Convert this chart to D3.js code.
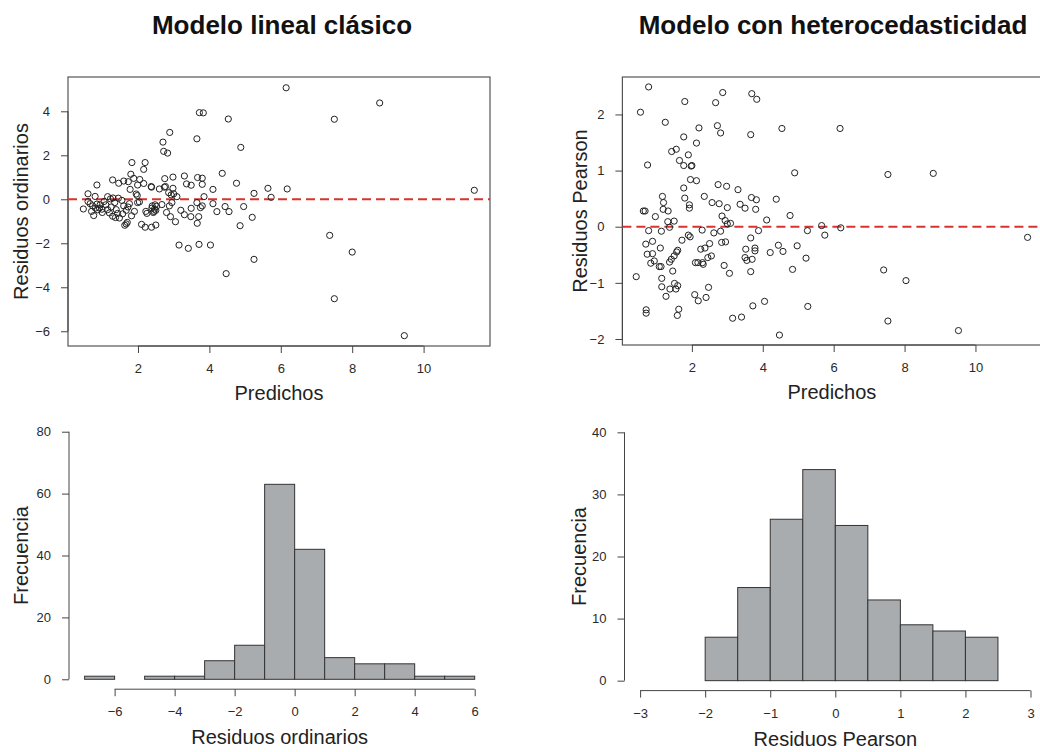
<!DOCTYPE html>
<html>
<head>
<meta charset="utf-8">
<style>
  body { margin: 0; background: #fff; }
  svg { display: block; font-family: "Liberation Sans", Arial, sans-serif; }
  .axis path, .axis line { stroke: #444; }
  .axis text { font-size: 13px; fill: #2a2a2a; }
  .pt { fill: none; stroke: #222; stroke-width: 1; }
  .bar { fill: #a9acaf; stroke: #333; stroke-width: 1; }
  .ttl { font-size: 26px; font-weight: bold; fill: #111; }
  .lab { font-size: 20px; fill: #222; }
</style>
</head>
<body>
<script src="https://d3js.org/d3.v7.min.js"></script>
<script>
// fitted values vs ordinary residuals (classic linear model)
var ordinaryPoints = [
  [6.15,5.07],[8.77,4.38],[3.72,3.94],[3.83,3.93],[4.53,3.65],[7.5,3.64],[2.89,3.04],[3.65,2.75],[2.70,2.6],[2.72,2.18],[2.83,2.1],[4.88,2.36],
  [1.83,1.67],[2.20,1.67],[2.16,1.36],[1.80,1.14],[1.88,0.95],[2.05,0.9],[1.29,0.88],[1.6,0.83],[1.46,0.73],[1.73,0.8],[2.16,0.72],[1.99,0.65],
  [0.85,0.65],[1.78,0.45],[1.95,0.24],[1.98,0.17],[2.38,0.55],[2.75,0.94],[2.98,1.01],[2.74,0.55],[2.98,0.5],[3.30,1.06],[3.36,0.7],[3.49,0.64],
  [3.67,0.99],[3.80,0.96],[3.80,0.68],[4.36,1.18],[4.76,0.73],[4.10,0.45],[3.85,0.12],[5.25,0.27],[0.6,0.25],[0.8,0.13],[1.15,0.12],[1.23,0.02],
  [1.3,0.06],[2.86,0.3],[2.93,0.2],[3.0,0.25],[3.09,0.12],[5.64,0.5],[5.73,0.09],[6.18,0.47],[11.42,0.41],[2.37,0.58],[2.6,0.47],[2.77,0.58],[1.45,0.05],
  [9.46,-6.2],[7.5,-4.52],[4.47,-3.38],[3.15,-2.08],[3.41,-2.23],[3.71,-2.05],[4.03,-2.08],[8.0,-2.4],[5.25,-2.73],
  [7.37,-1.64],[4.86,-1.2],[1.63,-1.18],[1.67,-1.12],[2.1,-1.14],[2.2,-1.27],[2.38,-1.27],[2.5,-1.17],[3.05,-1.02],[3.66,-1.09],[1.7,-1.05],
  [0.47,-0.44],[0.76,-0.74],[1.37,-0.83],[2.25,-0.64],[2.4,-0.3],[2.45,-0.55],[2.5,-0.5],[2.52,-0.32],[2.67,-0.24],[2.88,-0.3],
  [2.95,-0.15],[2.91,-0.79],[3.49,-0.41],[3.48,-0.79],[3.7,-0.79],[3.75,-0.38],[3.8,-0.3],[3.65,-0.15],[4.21,-0.56],[4.44,-0.33],
  [4.55,-0.56],[4.96,-0.33],[5.2,-0.82],[0.66,-0.2],[0.73,-0.3],[0.81,-0.4],[0.87,-0.48],[0.92,-0.4],[0.99,-0.45],
  [0.94,-0.25],[0.85,-0.22],[1.1,-0.25],[1.15,-0.47],[1.2,-0.62],[1.29,-0.77],[1.39,-0.47],[1.43,-0.64],[1.48,-0.85],[1.57,-0.66],
  [1.67,-0.5],[1.72,-0.35],[1.76,-0.2],[1.82,-0.75],[1.99,-0.15],[2.04,-0.12],[2.22,-0.55],[2.39,-0.4],[2.43,-0.6],[2.48,-0.25],
  [2.46,-0.45],[1.55,-0.05],[0.6,-0.1],[0.7,-0.55],[1.0,-0.6],[1.05,-0.1],[1.25,-0.35],[1.6,-0.3],[1.9,-0.55],[2.8,-0.6],
  [3.2,-0.5],[3.3,-0.7],[4.1,-0.2],[1.35,-0.15]
];

// fitted values vs Pearson residuals (heteroscedastic model)
var pearsonPoints = [
  [0.78,2.49],[0.55,2.04],[1.8,2.23],[2.67,2.21],[2.87,2.39],[3.69,2.37],[3.83,2.27],
  [1.25,1.86],[2.72,1.8],[2.81,1.67],[3.66,1.64],[4.54,1.75],[2.2,1.76],[1.77,1.6],[6.18,1.75],
  [2.13,1.49],[1.43,1.34],[1.56,1.38],[1.65,1.18],[1.77,1.09],[1.9,1.28],[1.98,1.08],[2.0,1.09],[0.75,1.1],
  [4.9,0.96],[1.96,0.84],[2.13,0.82],[1.77,0.69],[2.74,0.75],[2.98,0.72],[3.3,0.66],[1.17,0.54],[1.8,0.51],[2.35,0.54],[3.68,0.52],[7.53,0.93],[8.81,0.95],
  [1.2,0.43],[1.19,0.31],[1.33,0.28],[1.93,0.39],[1.93,0.33],[2.57,0.43],[2.77,0.41],[3.0,0.34],[3.36,0.4],[3.5,0.33],[3.82,0.48],[3.8,0.31],
  [4.38,0.49],[4.77,0.2],[4.11,0.12],[0.63,0.28],[0.68,0.28],[0.97,0.18],[1.32,0.09],[2.85,0.19],[2.94,0.11],[3.0,0.05],[3.09,0.06],[5.66,0.02],[1.5,0.1],
  [1.37,-0.01],[2.29,-0.06],[0.78,-0.07],[1.14,-0.08],[3.88,-0.07],[5.26,-0.07],[5.75,-0.15],[6.2,-0.02],[11.47,-0.19],[0.7,-0.31],
  [0.89,-0.26],[1.11,-0.38],[0.74,-0.49],[0.89,-0.48],[2.84,-0.28],[2.62,-0.11],[2.81,-0.08],[3.66,-0.2],[4.44,-0.33],[4.57,-0.44],
  [4.21,-0.46],[4.97,-0.34],[2.5,-0.3],[2.95,-0.27],[3.52,-0.4],[3.78,-0.38],[3.78,-0.43],[2.25,-0.4],[2.37,-0.38],
  [1.57,-0.45],[1.6,-0.42],[1.72,-0.24],[1.9,-0.15],[1.95,-0.18],
  [0.84,-0.65],[0.94,-0.61],[1.08,-0.71],[1.13,-0.71],[1.37,-0.63],[1.42,-0.58],[1.46,-0.79],[2.55,-0.52],[2.45,-0.55],[2.3,-0.64],
  [2.32,-0.67],[2.17,-0.64],[2.1,-0.64],[2.91,-0.69],[3.06,-0.83],[3.66,-0.8],[3.55,-0.6],[3.7,-0.58],[3.5,-0.55],[5.22,-0.56],
  [4.84,-0.76],[7.41,-0.77],[8.04,-0.96],[0.43,-0.89],[1.5,-0.52],[1.15,-0.92],
  [1.15,-1.07],[1.27,-1.24],[1.38,-1.11],[1.51,-1.01],[1.55,-1.11],[1.6,-1.05],[2.08,-1.21],[2.18,-1.32],[2.4,-1.26],[2.47,-1.08],
  [0.71,-1.48],[3.72,-1.41],[4.05,-1.33],[5.27,-1.42],[1.63,-1.47],
  [1.59,-1.58],[0.71,-1.54],[3.15,-1.63],[3.4,-1.61],[4.47,-1.93],[7.53,-1.68],[9.52,-1.85]
];

var ordBreaks = [-7,-6,-5,-4,-3,-2,-1,0,1,2,3,4,5,6];
var ordCounts = [1,0,1,1,6,11,63,42,7,5,5,1,1];
var pearBreaks = [-2,-1.5,-1,-0.5,0,0.5,1,1.5,2,2.5];
var pearCounts = [7,15,26,34,25,13,9,8,7];

var predTicks = [2,4,6,8,10];
var ordTicks = [-6,-4,-2,0,2,4];
var pearTicks = [-2,-1,0,1,2];
var ordHistX = [-6,-4,-2,0,2,4,6];
var ordHistY = [0,20,40,60,80];
var pearHistX = [-3,-2,-1,0,1,2,3];
var pearHistY = [0,10,20,30,40];

var W = 1040, H = 752, TICK = 7, PAD = 11;

var svg = d3.select("body").append("svg")
  .attr("width", W).attr("height", H);

function fmt(d) { return d < 0 ? "\u2212" + Math.abs(d) : String(d); }

// R-style axis: line only across the ticks
function rAxis(g, axis, scale, ticks, horiz) {
  g.call(axis.tickValues(ticks).tickSize(TICK).tickPadding(PAD).tickFormat(fmt));
  g.select(".domain").remove();
  var a = scale(d3.min(ticks)), b = scale(d3.max(ticks));
  g.append("line").attr("stroke", "#444")
    .attr("x1", horiz ? a : 0).attr("x2", horiz ? b : 0)
    .attr("y1", horiz ? 0 : a).attr("y2", horiz ? 0 : b);
}

function scatter(pts, o) {
  var x = d3.scaleLinear().domain(o.xlim).range([o.x0, o.x1]);
  var y = d3.scaleLinear().domain(o.ylim).range([o.y1, o.y0]);
  var g = svg.append("g");

  g.append("rect")
    .attr("x", o.x0).attr("y", o.y0)
    .attr("width", o.x1 - o.x0).attr("height", o.y1 - o.y0)
    .attr("fill", "none").attr("stroke", "#555").attr("stroke-width", 1.2);

  rAxis(g.append("g").attr("class", "axis").attr("transform", "translate(0," + o.y1 + ")"),
    d3.axisBottom(x), x, o.xticks, true);
  rAxis(g.append("g").attr("class", "axis").attr("transform", "translate(" + o.x0 + ",0)"),
    d3.axisLeft(y), y, o.yticks, false);

  // reference line at zero
  g.append("line")
    .attr("x1", o.x0).attr("x2", o.x1)
    .attr("y1", y(0)).attr("y2", y(0))
    .attr("stroke", "#d8342f").attr("stroke-width", 2)
    .attr("stroke-dasharray", "9,5");

  g.selectAll(".pt").data(pts).enter()
    .append("circle").attr("class", "pt")
    .attr("cx", function(d) { return x(d[0]); })
    .attr("cy", function(d) { return y(d[1]); })
    .attr("r", 3.1);

  g.append("text").attr("class", "lab")
    .attr("x", (o.x0 + o.x1) / 2).attr("y", o.y1 + 54)
    .attr("text-anchor", "middle").text(o.xlab);

  g.append("text").attr("class", "lab")
    .attr("transform", "translate(" + o.ylabX + "," + (o.y0 + o.y1) / 2 + ") rotate(-90)")
    .attr("text-anchor", "middle").text(o.ylab);
}

function hist(breaks, counts, o) {
  var x = d3.scaleLinear().domain(o.xlim).range([o.x0, o.x1]);
  var y = d3.scaleLinear().domain(o.ylim).range([o.y1, o.y0]);
  var g = svg.append("g");

  g.selectAll(".bar").data(counts).enter()
    .append("rect").attr("class", "bar")
    .attr("x", function(d, i) { return x(breaks[i]); })
    .attr("width", function(d, i) { return x(breaks[i + 1]) - x(breaks[i]); })
    .attr("y", function(d) { return y(d); })
    .attr("height", function(d) { return y(0) - y(d); });

  rAxis(g.append("g").attr("class", "axis").attr("transform", "translate(0," + o.y1 + ")"),
    d3.axisBottom(x), x, o.xticks, true);
  rAxis(g.append("g").attr("class", "axis").attr("transform", "translate(" + o.x0 + ",0)"),
    d3.axisLeft(y), y, o.yticks, false);

  g.append("text").attr("class", "lab")
    .attr("x", (o.x0 + o.x1) / 2).attr("y", o.y1 + 55)
    .attr("text-anchor", "middle").text(o.xlab);

  g.append("text").attr("class", "lab")
    .attr("transform", "translate(" + o.ylabX + "," + (o.y0 + o.y1) / 2 + ") rotate(-90)")
    .attr("text-anchor", "middle").text("Frecuencia");
}

scatter(ordinaryPoints, {
  x0: 68, x1: 490, y0: 77, y1: 346,
  xlim: [0.04, 11.86], ylim: [-6.67, 5.56],
  xticks: predTicks, yticks: ordTicks,
  xlab: "Predichos", ylab: "Residuos ordinarios", ylabX: 28
});

scatter(pearsonPoints, {
  x0: 622.4, x1: 1041.4, y0: 77, y1: 345,
  xlim: [0.04, 11.86], ylim: [-2.107, 2.667],
  xticks: predTicks, yticks: pearTicks,
  xlab: "Predichos", ylab: "Residuos Pearson", ylabX: 587
});

hist(ordBreaks, ordCounts, {
  x0: 69, x1: 490.3, y0: 421.8, y1: 689.2,
  xlim: [-7.52, 6.52], ylim: [-3.2, 83.2],
  xticks: ordHistX, yticks: ordHistY,
  xlab: "Residuos ordinarios", ylabX: 27.5
});

hist(pearBreaks, pearCounts, {
  x0: 624.5, x1: 1046.1, y0: 422.4, y1: 690.6,
  xlim: [-3.24, 3.24], ylim: [-1.6, 41.6],
  xticks: pearHistX, yticks: pearHistY,
  xlab: "Residuos Pearson", ylabX: 586
});

svg.append("text").attr("class", "ttl")
  .attr("x", 282).attr("y", 33.5).attr("text-anchor", "middle")
  .text("Modelo lineal clásico");
svg.append("text").attr("class", "ttl")
  .attr("x", 833).attr("y", 33.5).attr("text-anchor", "middle")
  .text("Modelo con heterocedasticidad");
</script>
</body>
</html>
